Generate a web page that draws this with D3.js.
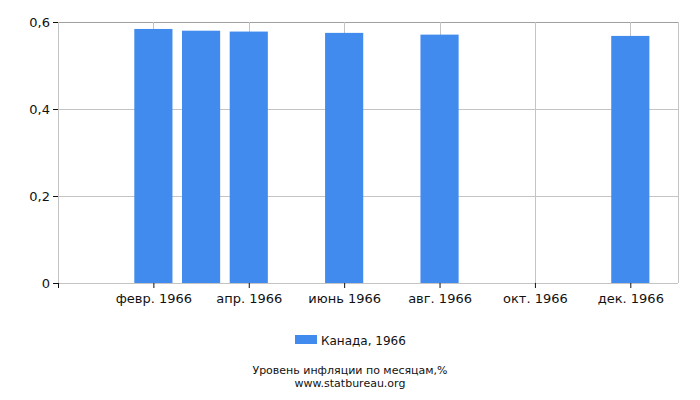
<!DOCTYPE html>
<html>
<head>
<meta charset="utf-8">
<script src="https://cdn.jsdelivr.net/npm/d3@7"></script>
<style>
  body { margin: 0; background: #fff; }
  text { font-family: "DejaVu Sans", sans-serif; fill: #111; }
</style>
</head>
<body>
<div id="chart"></div>
<script>
// Monthly inflation data, Canada 1966
const months = ['янв. 1966', 'февр. 1966', 'март 1966', 'апр. 1966', 'май 1966', 'июнь 1966',
    'июль 1966', 'авг. 1966', 'сент. 1966', 'окт. 1966', 'нояб. 1966', 'дек. 1966'];
const values = [null, 0.584, 0.580, 0.578, null, 0.575, null, 0.571, null, null, null, 0.568];
const yTicks = [0, 0.2, 0.4, 0.6];
const seriesName = 'Канада, 1966';
const title = 'Уровень инфляции по месяцам,%';
const source = 'www.statbureau.org';

const width = 700, height = 400;
const margin = { left: 58, right: 22, top: 22, bottom: 117 };
const innerW = width - margin.left - margin.right;
const innerH = height - margin.top - margin.bottom;

const svg = d3.select('#chart').append('svg')
    .attr('width', width)
    .attr('height', height);

const x = d3.scalePoint()
    .domain(months)
    .range([0, innerW])
    .padding(1);

const y = d3.scaleLinear()
    .domain([0, 0.6])
    .range([innerH, 0]);

const g = svg.append('g')
    .attr('transform', `translate(${margin.left},${margin.top})`);

const labelled = months.filter((d, i) => i % 2 === 1);

// Grid lines
g.append('g')
    .selectAll('line')
    .data(yTicks)
    .enter()
    .append('line')
    .attr('x1', 0)
    .attr('x2', innerW)
    .attr('y1', d => Math.round(y(d)) + 0.5)
    .attr('y2', d => Math.round(y(d)) + 0.5)
    .attr('stroke', d => d === 0.6 ? '#a0a0a0' : '#c4c4c4');

g.append('g')
    .selectAll('line')
    .data(labelled)
    .enter()
    .append('line')
    .attr('x1', d => Math.round(x(d)) + 0.5)
    .attr('x2', d => Math.round(x(d)) + 0.5)
    .attr('y1', 0)
    .attr('y2', innerH)
    .attr('stroke', '#c4c4c4');

// Plot frame sides
g.append('line')
    .attr('x1', innerW + 0.5).attr('x2', innerW + 0.5)
    .attr('y1', 0).attr('y2', innerH)
    .attr('stroke', '#c4c4c4');
g.append('line')
    .attr('x1', 0.5).attr('x2', 0.5)
    .attr('y1', 0).attr('y2', innerH)
    .attr('stroke', '#c4c4c4');

// Bars
const bw = x.step() * 0.8;
g.append('g')
    .selectAll('rect')
    .data(months.map((m, i) => ({ m, v: values[i] })).filter(d => d.v !== null))
    .enter()
    .append('rect')
    .attr('x', d => x(d.m) - bw / 2)
    .attr('width', bw)
    .attr('y', d => y(d.v))
    .attr('height', d => innerH - y(d.v))
    .attr('fill', '#418bee');

// X axis
const xAxis = g.append('g')
    .attr('transform', `translate(0,${innerH})`)
    .call(d3.axisBottom(x).tickValues(labelled).tickSize(5).tickPadding(6));
xAxis.select('.domain').attr('stroke', '#c4c4c4').attr('d', `M0.5,0.5H${innerW}`);
xAxis.selectAll('.tick line').attr('stroke', '#111');
xAxis.selectAll('text').style('font-size', '13px');
xAxis.append('line')
    .attr('x1', 0.5).attr('x2', 0.5)
    .attr('y1', 0).attr('y2', 5)
    .attr('stroke', '#111');

// Y axis
const yAxis = g.append('g')
    .call(d3.axisLeft(y).tickValues(yTicks).tickSize(5).tickPadding(3)
        .tickFormat(d => d === 0 ? '0' : d3.format('.1f')(d).replace('.', ',')));
yAxis.select('.domain').remove();
yAxis.selectAll('.tick line').attr('stroke', '#111');
yAxis.selectAll('text').style('font-size', '13px');

// Legend
const legend = svg.append('g').attr('transform', 'translate(295,335)');
legend.append('rect')
    .attr('width', 22)
    .attr('height', 9)
    .attr('fill', '#418bee');
legend.append('text')
    .attr('x', 26)
    .attr('y', 10)
    .style('font-size', '12px')
    .text(seriesName);

// Title and source
svg.append('text')
    .attr('x', 350)
    .attr('y', 374)
    .attr('text-anchor', 'middle')
    .style('font-size', '11px')
    .text(title);
svg.append('text')
    .attr('x', 350)
    .attr('y', 387)
    .attr('text-anchor', 'middle')
    .style('font-size', '11px')
    .text(source);
</script>
</body>
</html>
